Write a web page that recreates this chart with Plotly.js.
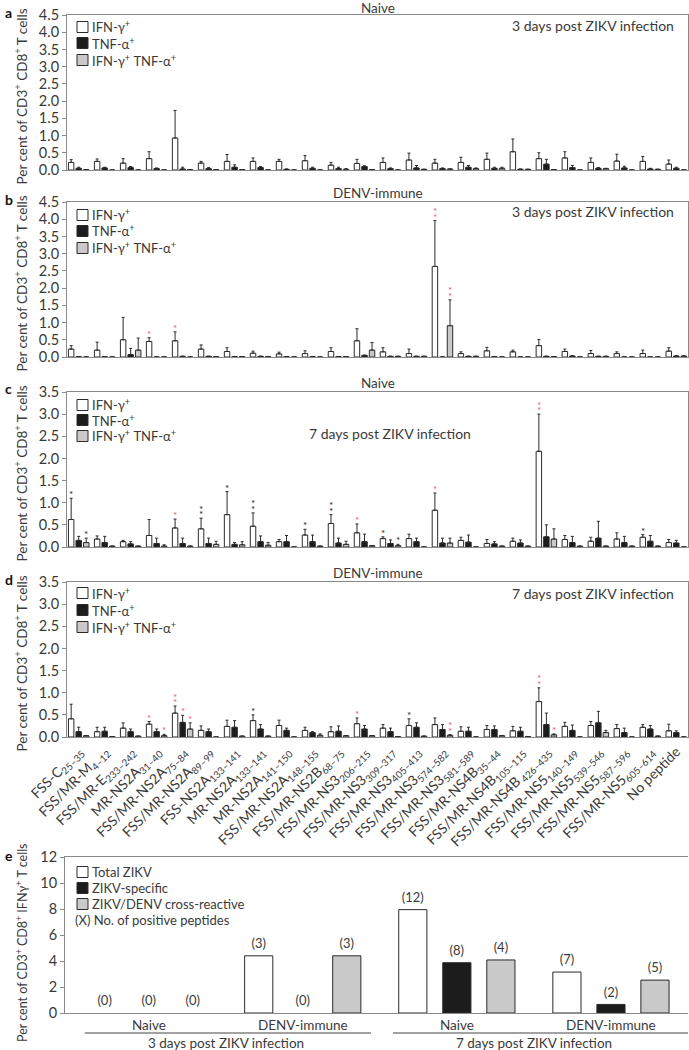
<!DOCTYPE html>
<html><head><meta charset="utf-8">
<script src="https://cdn.plot.ly/plotly-3.0.1.min.js"></script>
<style>html,body{margin:0;padding:0;background:#fff}#chart{width:689px;height:1050px}</style>
</head><body><div id="chart"></div>
<script>
const peptides = ['FSS-C<sub>25–35</sub>','FSS/MR-M<sub>4–12</sub>','FSS/MR-E<sub>233–242</sub>','MR-NS2A<sub>31–40</sub>',
'FSS/MR-NS2A<sub>75–84</sub>','FSS/MR-NS2A<sub>89–99</sub>','FSS-NS2A<sub>133–141</sub>','MR-NS2A<sub>133–141</sub>',
'MR-NS2A<sub>141–150</sub>','FSS/MR-NS2A<sub>148–155</sub>','FSS/MR-NS2B<sub>68–75</sub>','FSS/MR-NS3<sub>206–215</sub>',
'FSS/MR-NS3<sub>309–317</sub>','FSS/MR-NS3<sub>405–413</sub>','FSS/MR-NS3<sub>574–582</sub>','FSS/MR-NS3<sub>581–589</sub>',
'FSS/MR-NS4B<sub>35–44</sub>','FSS/MR-NS4B<sub>105–115</sub>','FSS/MR-NS4B<sub> 426–435</sub>','FSS/MR-NS5<sub>140–149</sub>',
'FSS/MR-NS5<sub>539–546</sub>','FSS/MR-NS5<sub>587–596</sub>','FSS/MR-NS5<sub>605–614</sub>','No peptide'];
const seriesNames = ['IFN-γ<sup>+</sup>','TNF-α<sup>+</sup>','IFN-γ<sup>+</sup> TNF-α<sup>+</sup>'];

// Panel a: naive, 3 days
const aIFN    = [0.22,0.25,0.20,0.33,0.93,0.20,0.25,0.25,0.25,0.27,0.14,0.19,0.22,0.29,0.20,0.22,0.31,0.53,0.33,0.35,0.22,0.26,0.25,0.17];
const aIFNerr = [0.08,0.07,0.13,0.20,0.80,0.05,0.20,0.10,0.06,0.15,0.08,0.12,0.13,0.20,0.11,0.15,0.18,0.37,0.17,0.18,0.13,0.20,0.14,0.12];
const aTNF    = [0.05,0.06,0.07,0.04,0.03,0.04,0.08,0.07,0.02,0.05,0.04,0.10,0.04,0.06,0.04,0.08,0.05,0.02,0.17,0.07,0.05,0.06,0.03,0.05];
const aTNFerr = [0.03,0.02,0.03,0.02,0.05,0.03,0.07,0.03,0.01,0.03,0.04,0.02,0.02,0.07,0.02,0.05,0.03,0.01,0.14,0.06,0.02,0.05,0.02,0.03];
const aDual   = [0.01,0,0,0,0.01,0.01,0.01,0,0,0,0.02,0.01,0,0.02,0.03,0.04,0.05,0.02,0.01,0,0.04,0,0.02,0];
const aDualerr= [0,0,0,0,0,0,0,0,0,0,0.02,0,0,0,0,0.02,0.03,0,0,0,0.01,0,0,0];
// Panel b: DENV-immune, 3 days
const bIFN    = [0.23,0.20,0.50,0.45,0.47,0.23,0.16,0.11,0.09,0.10,0.16,0.47,0.15,0.10,2.63,0.10,0.18,0.15,0.33,0.16,0.10,0.10,0.10,0.17];
const bIFNerr = [0.10,0.23,0.65,0.11,0.26,0.12,0.11,0.06,0.05,0.08,0.11,0.35,0.12,0.13,1.33,0.05,0.10,0.05,0.18,0.07,0.09,0.05,0.10,0.10];
const bTNF    = [0.01,0.01,0.07,0,0.02,0.02,0.01,0.02,0.01,0.01,0.01,0.05,0.02,0.02,0,0.02,0.01,0,0.02,0.03,0.02,0,0,0.03];
const bTNFerr = [0,0,0.18,0,0,0,0,0,0,0,0,0,0,0,0,0,0,0,0,0,0,0,0,0];
const bDual   = [0,0,0.20,0,0,0.01,0.01,0.01,0,0,0.01,0.20,0.02,0.02,0.91,0.02,0,0,0.01,0,0.02,0,0,0.03];
const bDualerr= [0,0,0.35,0,0,0,0,0,0,0,0,0.22,0,0,0.75,0,0,0,0,0,0,0,0,0];
// Panel c: naive, 7 days
const cIFN    = [0.62,0.18,0.12,0.26,0.43,0.41,0.73,0.47,0.12,0.27,0.53,0.32,0.19,0.19,0.83,0.15,0.08,0.13,2.16,0.17,0.13,0.18,0.22,0.10];
const cIFNerr = [0.48,0.07,0.03,0.36,0.20,0.24,0.52,0.30,0.05,0.13,0.20,0.20,0.04,0.10,0.39,0.07,0.09,0.07,0.84,0.09,0.09,0.14,0.06,0.07];
const cTNF    = [0.15,0.10,0.07,0.08,0.08,0.08,0.06,0.12,0.12,0.12,0.09,0.12,0.08,0.12,0.09,0.11,0.07,0.09,0.23,0.10,0.20,0.10,0.13,0.09];
const cTNFerr = [0.09,0.14,0.05,0.12,0.12,0.12,0.04,0.13,0.14,0.15,0.11,0.17,0.08,0.08,0.11,0.16,0.05,0.07,0.27,0.14,0.38,0.14,0.13,0.06];
const cDual   = [0.10,0.02,0.02,0.02,0.02,0.06,0.05,0.04,0,0.02,0.06,0.03,0.03,0,0.09,0,0.02,0.02,0.18,0.02,0.02,0.02,0.02,0];
const cDualerr= [0.10,0,0,0.03,0,0.07,0.07,0.06,0,0,0.07,0,0.03,0,0.11,0,0,0,0.23,0,0,0,0,0];
// Panel d: DENV-immune, 7 days
const dIFN    = [0.41,0.12,0.20,0.29,0.54,0.15,0.24,0.37,0.26,0.15,0.12,0.30,0.20,0.26,0.28,0.13,0.17,0.14,0.80,0.24,0.26,0.19,0.22,0.14];
const dIFNerr = [0.33,0.10,0.12,0.06,0.16,0.10,0.14,0.13,0.12,0.07,0.11,0.13,0.08,0.15,0.15,0.10,0.09,0.10,0.31,0.09,0.09,0.09,0.06,0.15];
const dTNF    = [0.12,0.13,0.12,0.12,0.33,0.12,0.22,0.18,0.15,0.10,0.13,0.18,0.12,0.22,0.17,0.13,0.17,0.13,0.28,0.15,0.32,0.10,0.18,0.10];
const dTNFerr = [0.10,0.09,0.06,0.06,0.16,0.06,0.15,0.10,0.05,0.02,0.12,0.08,0.08,0.10,0.11,0.09,0.08,0.09,0.26,0.12,0.26,0.10,0.08,0.04];
const dDual   = [0.03,0.01,0.02,0.03,0.18,0,0.02,0.02,0,0.04,0.03,0.03,0.01,0.02,0.04,0,0.03,0.01,0.05,0,0.10,0,0.02,0];
const dDualerr= [0,0,0,0.03,0.14,0,0,0,0,0.03,0,0,0,0,0.01,0,0,0,0.02,0,0.05,0,0,0];

// significance marks: [category, series(0 IFN,1 TNF,2 dual), count, red?]
const bStars = [[3,0,1,1],[4,0,1,1],[14,0,2,1],[14,2,2,1]];
const cStars = [[0,0,1,0],[0,2,1,0],[4,0,1,1],[5,0,2,0],[6,0,1,0],[7,0,2,0],[9,0,1,0],[10,0,2,0],
                [11,0,1,1],[12,0,1,0],[12,2,1,0],[14,0,1,1],[18,0,2,1],[22,0,1,0]];
const dStars = [[3,0,1,1],[3,2,1,1],[4,0,2,1],[4,1,1,1],[4,2,1,1],[7,0,1,0],[11,0,1,1],[13,0,1,0],
                [14,2,2,1],[18,0,2,1],[18,2,1,1]];

// Panel e
const eGroups = ['Naive','DENV-immune','Naive','DENV-immune'];
const eTimes = ['3 days post ZIKV infection','7 days post ZIKV infection'];
const eSeries = ['Total ZIKV','ZIKV-specific','ZIKV/DENV cross-reactive'];
const eTotal = [0, 4.4, 7.95, 3.15];
const eSpecific = [0, 0, 3.87, 0.66];
const eCross = [0, 4.4, 4.08, 2.53];
const eTotalN = ['(0)','(3)','(12)','(7)'];
const eSpecificN = ['(0)','(0)','(8)','(2)'];
const eCrossN = ['(0)','(3)','(4)','(5)'];

const FONT = 'Lato, "Open Sans", sans-serif';
const TXT = '#3a3a3a';
const fills = ['#ffffff','#1c1c1c','#c9c9c9'];
const offs = [-0.29, 0, 0.29];
const barW = 0.21;
const idx = peptides.map((_, i) => i);

const traces = [];
const annotations = [];
const shapes = [];

function addPanel(n, sets, stars) {
  const xa = 'x' + (n === 1 ? '' : n), ya = 'y' + (n === 1 ? '' : n);
  sets.forEach((s, k) => {
    traces.push({type:'bar', x: idx, y: s[0], offset: offs[k] - barW/2, width: barW,
      xaxis: xa, yaxis: ya, showlegend:false, hoverinfo:'skip',
      marker:{color: fills[k], line:{color:'#2b2b2b', width:1}},
      error_y:{type:'data', symmetric:false, array: s[1], arrayminus: s[1].map(()=>0),
        color:'#2b2b2b', thickness:1, width:1.5}});
  });
  (stars || []).forEach(st => {
    const [c, k, cnt, red] = st;
    const top = sets[k][0][c] + sets[k][1][c];
    for (let j = 0; j < cnt; j++) {
      annotations.push({xref: xa, yref: ya, x: c + offs[k], y: top, text: '*', showarrow: false,
        yshift: 4 + j*5.5, font:{family: FONT, size: 10, color: red ? '#e4607f' : '#222'}});
    }
  });
}

addPanel(1, [[aIFN,aIFNerr],[aTNF,aTNFerr],[aDual,aDualerr]], []);
addPanel(2, [[bIFN,bIFNerr],[bTNF,bTNFerr],[bDual,bDualerr]], bStars);
addPanel(3, [[cIFN,cIFNerr],[cTNF,cTNFerr],[cDual,cDualerr]], cStars);
addPanel(4, [[dIFN,dIFNerr],[dTNF,dTNFerr],[dDual,dDualerr]], dStars);

// panel e bars
const eX = [0,1,2,3];
const eOff = [0, 1, 2];
[[eTotal, eTotalN],[eSpecific, eSpecificN],[eCross, eCrossN]].forEach((s, k) => {
  const xs = eX.map(g => g*3.5 + eOff[k]);
  traces.push({type:'bar', x: xs, y: s[0], width: 0.64, xaxis:'x5', yaxis:'y5', showlegend:false, hoverinfo:'skip',
    marker:{color: fills[k], line:{color: s[0].map(v => v > 0 ? '#2b2b2b' : 'rgba(0,0,0,0)'), width:1}}});
  traces.push({type:'scatter', mode:'text', x: xs, y: s[0].map(v => v + 0.35), text: s[1], textposition:'top center',
    xaxis:'x5', yaxis:'y5', showlegend:false, hoverinfo:'skip', textfont:{family: FONT, size: 13, color: TXT}});
});

const W = 689, H = 1050;
const px = v => v / W;
const py = v => 1 - v / H;
const xDom = [px(67), px(688)];
const panels = [
  {top: 15, bot: 170, max: 4.5, letter:'a', head:'Naive', time:'3 days post ZIKV infection', timeX: 676, timeY: 25, timeAnchor:'right', leg:[27,43,60]},
  {top: 202, bot: 357, max: 4.5, letter:'b', head:'DENV-immune', time:'3 days post ZIKV infection', timeX: 676, timeY: 211, timeAnchor:'right', leg:[215,231,248]},
  {top: 392, bot: 547, max: 3.5, letter:'c', head:'Naive', time:'7 days post ZIKV infection', timeX: 307, timeY: 433, timeAnchor:'left', leg:[405,420,436]},
  {top: 582, bot: 737, max: 3.5, letter:'d', head:'DENV-immune', time:'7 days post ZIKV infection', timeX: 676, timeY: 593, timeAnchor:'right', leg:[593,610,627]}
];

const layout = {
  width: W, height: H, margin:{l:0,r:0,t:0,b:0}, paper_bgcolor:'#fff', plot_bgcolor:'#fff',
  barmode:'overlay', showlegend:false, font:{family: FONT, color: TXT, size: 13},
  annotations, shapes
};

panels.forEach((p, i) => {
  const n = i + 1;
  const xk = 'xaxis' + (n === 1 ? '' : n), yk = 'yaxis' + (n === 1 ? '' : n);
  const ya = 'y' + (n === 1 ? '' : n), xa = 'x' + (n === 1 ? '' : n);
  layout[xk] = {domain: xDom, anchor: ya, range:[-0.45, 23.45], showgrid:false, zeroline:false,
    showline:true, mirror:true, linecolor:'#8a8a8a', linewidth:1, ticks:'',
    tickvals: idx, ticktext: peptides, showticklabels: n === 4, tickangle: -45,
    tickfont:{family: FONT, size: 14, color: TXT}};
  layout[yk] = {domain:[py(p.bot), py(p.top)], anchor: xa, range:[0, p.max], dtick:0.5, tickformat:'.1f',
    showgrid:false, zeroline:false, showline:true, mirror:true, linecolor:'#8a8a8a', linewidth:1,
    ticks:'outside', ticklen:4, tickcolor:'#8a8a8a', tickfont:{family: FONT, size: 14.5, color: TXT}};
  // letter
  annotations.push({xref:'paper', yref:'paper', x: px(3), y: py(p.top - 3), xanchor:'left', yanchor:'middle',
    text:'<b>' + p.letter + '</b>', showarrow:false, font:{family: FONT, size: 14, color:'#111'}});
  // header
  annotations.push({xref:'paper', yref:'paper', x: px(377.5), y: py(Math.max(p.top - 9, 8.5)), xanchor:'center', yanchor:'middle',
    text: p.head, showarrow:false, font:{family: FONT, size: 13.5, color: TXT}});
  // time text
  annotations.push({xref:'paper', yref:'paper', x: px(p.timeX), y: py(p.timeY), xanchor: p.timeAnchor, yanchor:'middle',
    text: p.time, showarrow:false, font:{family: FONT, size: 14, color: TXT}});
  // y title
  annotations.push({xref:'paper', yref:'paper', x: px(21), y: py((p.top + p.bot)/2 + 4), xanchor:'center', yanchor:'middle',
    textangle:-90, text:'Per cent of CD3<sup>+</sup> CD8<sup>+</sup> T cells', showarrow:false,
    font:{family: FONT, size: 13.5, color: TXT}});
  // legend
  p.leg.forEach((yy, k) => {
    shapes.push({type:'rect', xref:'paper', yref:'paper', x0: px(77), x1: px(88), y0: py(yy + 5.5), y1: py(yy - 5.5),
      fillcolor: fills[k], line:{color:'#2b2b2b', width:1}});
    annotations.push({xref:'paper', yref:'paper', x: px(90), y: py(yy), xanchor:'left', yanchor:'middle',
      text: seriesNames[k], showarrow:false, font:{family: FONT, size: 13, color: TXT}});
  });
});

// panel e axes
layout.xaxis5 = {domain:[px(65), px(688)], anchor:'y5', range:[-0.9, 13.25], showgrid:false, zeroline:false,
  showline:true, mirror:true, linecolor:'#8a8a8a', ticks:'', showticklabels:false};
layout.yaxis5 = {domain:[py(1013), py(857)], anchor:'x5', range:[0,12], dtick:2, showgrid:false, zeroline:false,
  showline:true, linecolor:'#8a8a8a', ticks:'outside', ticklen:4, tickcolor:'#8a8a8a',
  tickfont:{family: FONT, size: 14.5, color: TXT}};
annotations.push({xref:'paper', yref:'paper', x: px(3), y: py(855), xanchor:'left', yanchor:'middle',
  text:'<b>e</b>', showarrow:false, font:{family: FONT, size: 14, color:'#111'}});
annotations.push({xref:'paper', yref:'paper', x: px(21), y: py(943), xanchor:'center', yanchor:'middle', textangle:-90,
  text:'Per cent of CD3<sup>+</sup> CD8<sup>+</sup> IFNγ<sup>+</sup> T cells', showarrow:false,
  font:{family: FONT, size: 12.5, color: TXT}});
[872, 888, 904].forEach((yy, k) => {
  shapes.push({type:'rect', xref:'paper', yref:'paper', x0: px(77), x1: px(88), y0: py(yy + 5.5), y1: py(yy - 5.5),
    fillcolor: fills[k], line:{color:'#2b2b2b', width:1}});
  annotations.push({xref:'paper', yref:'paper', x: px(90), y: py(yy), xanchor:'left', yanchor:'middle',
    text: eSeries[k], showarrow:false, font:{family: FONT, size: 13, color: TXT}});
});
annotations.push({xref:'paper', yref:'paper', x: px(73), y: py(920), xanchor:'left', yanchor:'middle',
  text:'(X) No. of positive peptides', showarrow:false, font:{family: FONT, size: 13, color: TXT}});
eGroups.forEach((g, i) => {
  annotations.push({xref:'x5', yref:'paper', x: i*3.5 + 1, y: py(1025), xanchor:'center', yanchor:'middle',
    text: g, showarrow:false, font:{family: FONT, size: 13.5, color: TXT}});
});
eTimes.forEach((t, i) => {
  const x0 = i*7 - 0.45, x1 = i*7 + 6.05 + (i ? 0.6 : 0);
  shapes.push({type:'line', xref:'x5', yref:'paper', x0, x1, y0: py(1033), y1: py(1033), line:{color:'#444', width:1}});
  annotations.push({xref:'x5', yref:'paper', x: i*7 + 2.75, y: py(1043), xanchor:'center', yanchor:'middle',
    text: t, showarrow:false, font:{family: FONT, size: 13.5, color: TXT}});
});

Plotly.newPlot('chart', traces, layout, {staticPlot:true, displayModeBar:false});
</script></body></html>
